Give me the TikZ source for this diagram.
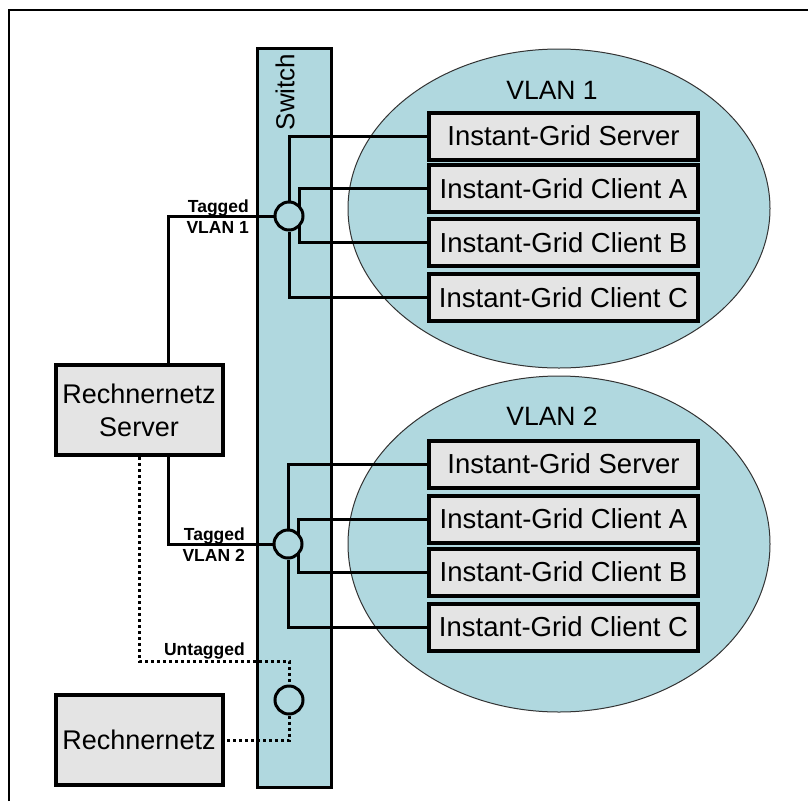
\documentclass[tikz,border=0pt]{standalone}
\usepackage{fontspec}
\setmainfont{Liberation Sans}
\usetikzlibrary{shapes.geometric}
\definecolor{netblue}{RGB}{176,216,223}
\definecolor{boxgray}{RGB}{228,228,228}
\pgfdeclarelayer{back}
\pgfdeclarelayer{wires}
\pgfsetlayers{back,wires,main}
\begin{document}
\begin{tikzpicture}[x=1pt,y=-1pt,
  vlan/.style={ellipse,draw=black!80,line width=1,fill=netblue,minimum width=422,inner sep=0},
  switchbox/.style={rectangle,draw,line width=3,fill=netblue,minimum width=74,minimum height=739,inner sep=0},
  host/.style={rectangle,draw,line width=4,fill=boxgray,minimum width=269,minimum height=47,inner sep=0,
    font=\fontsize{27.5}{30}\selectfont},
  bigbox/.style={rectangle,draw,line width=4,fill=boxgray,minimum width=167,minimum height=90,inner sep=0,
    align=center,font=\fontsize{27}{33}\selectfont},
  port/.style={circle,draw,line width=3,fill=netblue,minimum size=28,inner sep=0},
  wire/.style={line width=3},
  dotwire/.style={line width=3,dash pattern=on 3pt off 3pt},
  taglabel/.style={anchor=base east,inner sep=0,font=\bfseries\fontsize{17.5}{21}\selectfont},
  title/.style={inner sep=0,font=\fontsize{26.5}{30}\selectfont}]
\useasboundingbox (0,0) rectangle (808,801);

% outer frame (top and left edges)
\draw[line width=2] (9,801) -- (9,10) -- (808,10);

% VLAN areas and switch body
\begin{pgfonlayer}{back}
  \node[vlan,minimum height=319] (v1) at (559,208.5) {};
  \node[vlan,minimum height=336] (v2) at (559,544) {};
  \node[switchbox] (sw) at (294,417.5) {};
\end{pgfonlayer}
\node[title] (v1t) at (552,90) {VLAN 1};
\node[title] (v2t) at (552,416) {VLAN 2};
\node[inner sep=0,rotate=90,font=\fontsize{26}{30}\selectfont] (swt) at (285,92) {Switch};

% hosts in VLAN 1
\node[host] (s1) at (563.5,136) {Instant-Grid Server};
\node[host] (a1) at (563.5,188.5) {Instant-Grid Client A};
\node[host] (b1) at (563.5,242.5) {Instant-Grid Client B};
\node[host] (c1) at (563.5,297.5) {Instant-Grid Client C};

% hosts in VLAN 2
\node[host] (s2) at (563.5,464) {Instant-Grid Server};
\node[host] (a2) at (563.5,519) {Instant-Grid Client A};
\node[host] (b2) at (563.5,572) {Instant-Grid Client B};
\node[host] (c2) at (563.5,627) {Instant-Grid Client C};

% servers outside the switch
\node[bigbox] (rs) at (139,410) {Rechnernetz\\Server};
\node[bigbox] (rn) at (139,740) {Rechnernetz};

% switch ports
\node[port] (p1) at (289,216) {};
\node[port] (p2) at (288,544) {};
\node[port] (p3) at (289,700) {};

\coordinate (k1) at (299,216);
\coordinate (k2) at (298.5,544);
\coordinate (u1) at (289,661);

\begin{pgfonlayer}{wires}
  % VLAN 1 fan-out
  \draw[wire] (p1.north) |- (s1.west);
  \draw[wire] (a1.west) -| (k1) |- (b1.west);
  \draw[wire] (p1.south) |- (c1.west);
  % VLAN 2 fan-out
  \draw[wire] (p2.north) |- (s2.west);
  \draw[wire] (a2.west) -| (k2) |- (b2.west);
  \draw[wire] (p2.south) |- (c2.west);
  % tagged uplinks
  \draw[wire] (p1.west) -| ([xshift=29pt]rs.north);
  \draw[wire] (p2.west) -| ([xshift=29pt]rs.south);
  % untagged link
  \draw[dotwire] (rs.south) |- (u1) -- (p3.north);
  \draw[dotwire] (p3.south) |- (rn.east);
\end{pgfonlayer}

% link labels
\node[taglabel] (t1a) at (249,212) {Tagged};
\node[taglabel] (t1b) at (249,233) {VLAN 1};
\node[taglabel] (t2a) at (245,540) {Tagged};
\node[taglabel] (t2b) at (245,561) {VLAN 2};
\node[taglabel] (ut) at (245,655) {Untagged};
\end{tikzpicture}
\end{document}
